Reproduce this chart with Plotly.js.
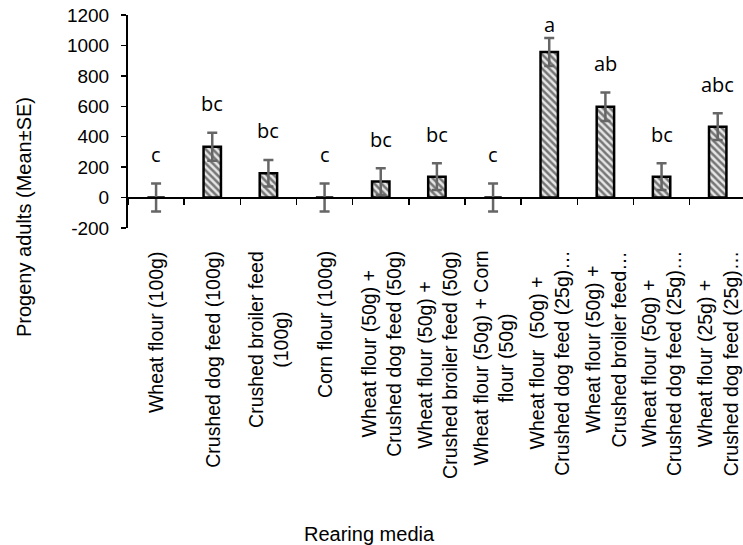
<!DOCTYPE html>
<html>
<head>
<meta charset="utf-8">
<script src="https://cdn.plot.ly/plotly-3.0.1.min.js"></script>
<style>html,body{margin:0;padding:0;background:#fff;}#chart{width:743px;height:545px;}</style>
</head>
<body>
<div id="chart"></div>
<script>
// ---- data ----
const categories = [
  "Wheat flour (100g)",
  "Crushed dog feed (100g)",
  "Crushed broiler feed<br>(100g)",
  "Corn flour (100g)",
  "Wheat flour (50g) +<br>Crushed dog feed (50g)",
  "Wheat flour (50g) +<br>Crushed broiler feed (50g)",
  "Wheat flour (50g) + Corn<br>flour (50g)",
  "Wheat flour  (50g) +<br>Crushed dog feed (25g)…",
  "Wheat flour (50g) +<br>Crushed broiler feed…",
  "Wheat flour (50g) +<br>Crushed dog feed (25g)…",
  "Wheat flour (25g) +<br>Crushed dog feed (25g)…"
];
const means = [0, 334, 160, 0, 105, 137, 0, 957, 597, 137, 466];
const se = [92, 92, 87, 92, 88, 88, 92, 92, 93, 88, 88];
const letters = ["c", "bc", "bc", "c", "bc", "bc", "c", "a", "ab", "bc", "abc"];
const yTickVals = [-200, 0, 200, 400, 600, 800, 1000, 1200];
const yTickText = ["-200", "0", "200", "400", "600", "800", "1000", "1200"];
const yTitle = "Progeny adults (Mean±SE)";
const xTitle = "Rearing media";

// ---- layout constants ----
const W = 743, H = 545;
const M = {l: 128, r: 0, t: 15, b: 317};
const plotH = H - M.t - M.b;   // 213
const plotW = W - M.l - M.r;
const yMin = -200, yMax = 1200;
const pxPerUnit = plotH / (yMax - yMin);
const paperY = px => (H - M.b - px) / plotH;
const paperX = px => (px - M.l) / plotW;
const ARIAL = "Arial";

const trace = {
  type: "bar",
  x: categories,
  y: means,
  width: 0.31,
  marker: {
    color: "#767676",
    line: {color: "#000000", width: 2.5},
    pattern: {shape: "\\", fgcolor: "#767676", bgcolor: "#e6e6e6", size: 5, solidity: 0.5, fillmode: "replace"}
  },
  error_y: {type: "data", array: se, visible: true, color: "#666666", thickness: 2.5, width: 5},
  hoverinfo: "none"
};

const annotations = [];
// category labels (rotated, centred lines)
categories.forEach(c => {
  annotations.push({
    xref: "x", yref: "paper", x: c, y: paperY(249),
    text: c, showarrow: false, textangle: -90,
    xanchor: "center", yanchor: "top", align: "center",
    font: {family: ARIAL, size: 19.5, color: "#000"}
  });
});
// significance letters
const topCenterPx = 24;
const labelGapPx = 29;
letters.forEach((t, i) => {
  const errTop = means[i] + se[i];
  const yTop = yMax - (topCenterPx - M.t) / pxPerUnit;
  const yLab = Math.min(errTop + labelGapPx / pxPerUnit, yTop);
  annotations.push({
    xref: "x", yref: "y", x: categories[i], y: yLab,
    text: t, showarrow: false, xanchor: "center", yanchor: "middle",
    font: {family: "Open Sans, sans-serif", size: 20, color: "#000"}
  });
});
// axis titles
annotations.push({
  xref: "paper", yref: "paper", x: paperX(24), y: paperY(217),
  text: yTitle, showarrow: false, textangle: -90,
  xanchor: "center", yanchor: "middle",
  font: {family: ARIAL, size: 20, color: "#000"}
});
annotations.push({
  xref: "paper", yref: "paper", x: paperX(369), y: paperY(534),
  text: xTitle, showarrow: false, xanchor: "center", yanchor: "middle",
  font: {family: ARIAL, size: 20, color: "#000"}
});

const layout = {
  width: W, height: H,
  margin: M,
  paper_bgcolor: "#fff", plot_bgcolor: "#fff",
  showlegend: false,
  font: {family: ARIAL, color: "#000"},
  xaxis: {
    type: "category",
    range: [-0.5, 10.45],
    anchor: "free",
    position: (0 - yMin) / (yMax - yMin),
    showline: true, linecolor: "#000", linewidth: 2,
    ticks: "outside", tickson: "boundaries", ticklen: 6, tickwidth: 1.5, tickcolor: "#000",
    showticklabels: false, showgrid: false, zeroline: false, fixedrange: true
  },
  yaxis: {
    range: [yMin, yMax],
    tickmode: "array", tickvals: yTickVals, ticktext: yTickText,
    showline: true, linecolor: "#000", linewidth: 2,
    ticks: "outside", ticklen: 5, tickwidth: 1.5, tickcolor: "#000",
    ticklabelstandoff: 8,
    tickfont: {family: ARIAL, size: 19, color: "#000"},
    showgrid: false, zeroline: false, fixedrange: true
  },
  annotations: annotations
};

Plotly.newPlot("chart", [trace], layout, {displayModeBar: false, staticPlot: true});
</script>
</body>
</html>
